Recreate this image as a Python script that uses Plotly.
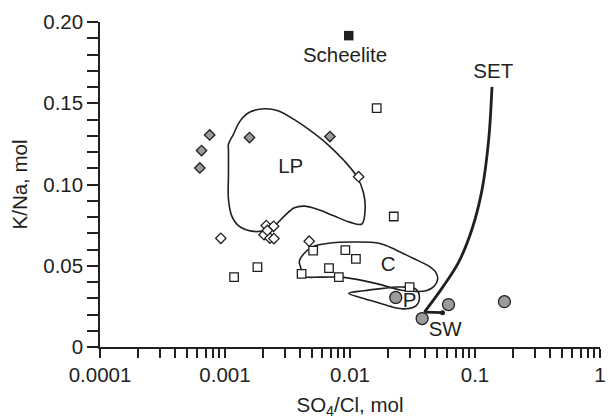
import plotly.graph_objects as go

# ---- data (x = SO4/Cl, y = K/Na) ----
gray_diamond_x = [0.000754, 0.000649, 0.000629, 0.00157, 0.00691]
gray_diamond_y = [0.1305, 0.1209, 0.1102, 0.1289, 0.1295]

white_diamond_x = [0.01172, 0.000926, 0.002139, 0.002449, 0.002053, 0.002289, 0.002462, 0.002180, 0.004717]
white_diamond_y = [0.1048, 0.0669, 0.0747, 0.0743, 0.0691, 0.0670, 0.0667, 0.0717, 0.0651]

square_x = [0.01635, 0.02239, 0.001182, 0.001817, 0.005072, 0.004099, 0.009180, 0.01115, 0.00679, 0.00814, 0.02997]
square_y = [0.1470, 0.0803, 0.0430, 0.0492, 0.0593, 0.0450, 0.0596, 0.0542, 0.0486, 0.0430, 0.0369]

circle_x = [0.02323, 0.03777, 0.0614, 0.1720]
circle_y = [0.0305, 0.0175, 0.0261, 0.0279]

scheelite_x = [0.00977]
scheelite_y = [0.1916]

lp_x = [0.001066, 0.001168, 0.001319, 0.001582, 0.002079, 0.002648, 0.003588, 0.004857,
        0.006578, 0.008915, 0.01136, 0.01283, 0.01321, 0.01245, 0.01006, 0.00743,
        0.005483, 0.004305, 0.003588, 0.002991, 0.002493, 0.002079, 0.001629, 0.001279,
        0.001132, 0.001066, 0.001066, 0.001066, 0.001066]
lp_y = [0.1249, 0.1309, 0.1390, 0.1446, 0.1466, 0.1454, 0.1399, 0.1330,
        0.1249, 0.1149, 0.1048, 0.0948, 0.0848, 0.0757, 0.0767, 0.0807,
        0.0848, 0.0867, 0.0857, 0.0807, 0.0747, 0.0717, 0.0713, 0.0747,
        0.0807, 0.0908, 0.1068, 0.1209, 0.1249]

c_x = [0.004046, 0.003930, 0.004305, 0.005007, 0.006578, 0.01070, 0.01736, 0.02352,
       0.03189, 0.04313, 0.04872, 0.05027, 0.04697, 0.04062, 0.03385, 0.02578,
       0.02215, 0.01635, 0.01136, 0.00838, 0.005822, 0.004175, 0.004046]
c_y = [0.0486, 0.0526, 0.0577, 0.0616, 0.0637, 0.0646, 0.0637, 0.0596,
       0.0546, 0.0496, 0.0458, 0.0416, 0.0373, 0.0346, 0.0342, 0.0349,
       0.0361, 0.0390, 0.0416, 0.0430, 0.0430, 0.0437, 0.0486]

p_x = [0.00977, 0.01283, 0.01846, 0.02352, 0.02997, 0.03385, 0.03594, 0.03385,
       0.02822, 0.02215, 0.01635, 0.01206, 0.00977]
p_y = [0.0330, 0.0346, 0.0361, 0.0369, 0.0367, 0.0355, 0.0305, 0.0255,
       0.0235, 0.0245, 0.0275, 0.0305, 0.0330]

set_x = [0.1368, 0.1285, 0.1140, 0.0950, 0.0744, 0.0550, 0.0394]
set_y = [0.1601, 0.1271, 0.0970, 0.0729, 0.0526, 0.0367, 0.0215]

sw_x = [0.0394, 0.0550]
sw_y = [0.0215, 0.0211]
sw_dot_x = [0.0550]
sw_dot_y = [0.0211]

label_text = ["Scheelite", "SET", "LP", "C", "P", "SW"]
label_x = [0.00913, 0.140, 0.003355, 0.0202, 0.02997, 0.0577]
label_y = [0.1783, 0.1687, 0.1104, 0.0502, 0.0277, 0.0101]

x_tick_vals = [0.0001, 0.001, 0.01, 0.1, 1]
x_tick_text = ["0.0001", "0.001", "0.01", "0.1", "1"]
x_minor_vals = [m * d for d in [0.0001, 0.001, 0.01, 0.1] for m in range(2, 10)]
y_tick_vals = [0, 0.05, 0.10, 0.15, 0.20]
y_tick_text = ["0", "0.05", "0.10", "0.15", "0.20"]

INK = "#231f20"
GRAY = "#9b9b9b"
FONT = "Liberation Sans, Arial, sans-serif"
FS = 20.5

fig = go.Figure()

def curve(x, y, w=1.6, shape="spline"):
    fig.add_trace(go.Scatter(x=x, y=y, mode="lines",
                             line=dict(color=INK, width=w, shape=shape, smoothing=1.0),
                             hoverinfo="skip", showlegend=False))

curve(lp_x, lp_y)
curve(c_x, c_y)
curve(p_x, p_y)
curve(set_x, set_y, w=2.8)
curve(sw_x, sw_y, w=2.8, shape="linear")

fig.add_trace(go.Scatter(x=sw_dot_x, y=sw_dot_y, mode="markers",
                         marker=dict(symbol="circle", size=5, color=INK), showlegend=False))

fig.add_trace(go.Scatter(x=gray_diamond_x, y=gray_diamond_y, mode="markers",
                         marker=dict(symbol="diamond", size=8, color=GRAY,
                                     line=dict(color=INK, width=1.3)), showlegend=False))
fig.add_trace(go.Scatter(x=white_diamond_x, y=white_diamond_y, mode="markers",
                         marker=dict(symbol="diamond", size=8, color="white",
                                     line=dict(color=INK, width=1.3)), showlegend=False))
fig.add_trace(go.Scatter(x=square_x, y=square_y, mode="markers",
                         marker=dict(symbol="square", size=8.5, color="white",
                                     line=dict(color=INK, width=1.3)), showlegend=False))
fig.add_trace(go.Scatter(x=circle_x, y=circle_y, mode="markers",
                         marker=dict(symbol="circle", size=12, color=GRAY,
                                     line=dict(color=INK, width=1.3)), showlegend=False))
fig.add_trace(go.Scatter(x=scheelite_x, y=scheelite_y, mode="markers",
                         marker=dict(symbol="square", size=9.5, color=INK,
                                     line=dict(color=INK, width=0)), showlegend=False))

fig.add_trace(go.Scatter(x=label_x, y=label_y, mode="text", text=label_text,
                         textposition="middle center",
                         textfont=dict(family=FONT, size=FS, color=INK),
                         showlegend=False, hoverinfo="skip"))

axis_common = dict(showline=True, linecolor=INK, linewidth=1.5, ticks="outside",
                   tickcolor=INK, tickwidth=1.5, showgrid=False, zeroline=False,
                   tickfont=dict(family=FONT, size=FS, color=INK),
                   title_font=dict(family=FONT, size=FS, color=INK))

fig.update_xaxes(type="log", range=[-4, 0], tickvals=x_tick_vals, ticktext=x_tick_text,
                 ticklen=9,
                 minor=dict(tickvals=x_minor_vals, ticks="outside", ticklen=9,
                            tickcolor=INK, tickwidth=1.5, showgrid=False),
                 title_text="SO<sub>4</sub>/Cl, mol", title_standoff=12, **axis_common)
fig.update_yaxes(range=[0, 0.20], tickvals=y_tick_vals, ticktext=y_tick_text,
                 ticklen=11,
                 minor=dict(dtick=0.01, tick0=0, ticks="outside", ticklen=11,
                            tickcolor=INK, tickwidth=1.5, showgrid=False),
                 title_text="K/Na, mol", title_standoff=10, **axis_common)

fig.update_layout(width=613, height=420, margin=dict(l=100, r=7, t=22, b=66),
                  paper_bgcolor="white", plot_bgcolor="white",
                  font=dict(family=FONT, color=INK))
fig.update_traces(cliponaxis=False)

fig.write_html("out.html")
